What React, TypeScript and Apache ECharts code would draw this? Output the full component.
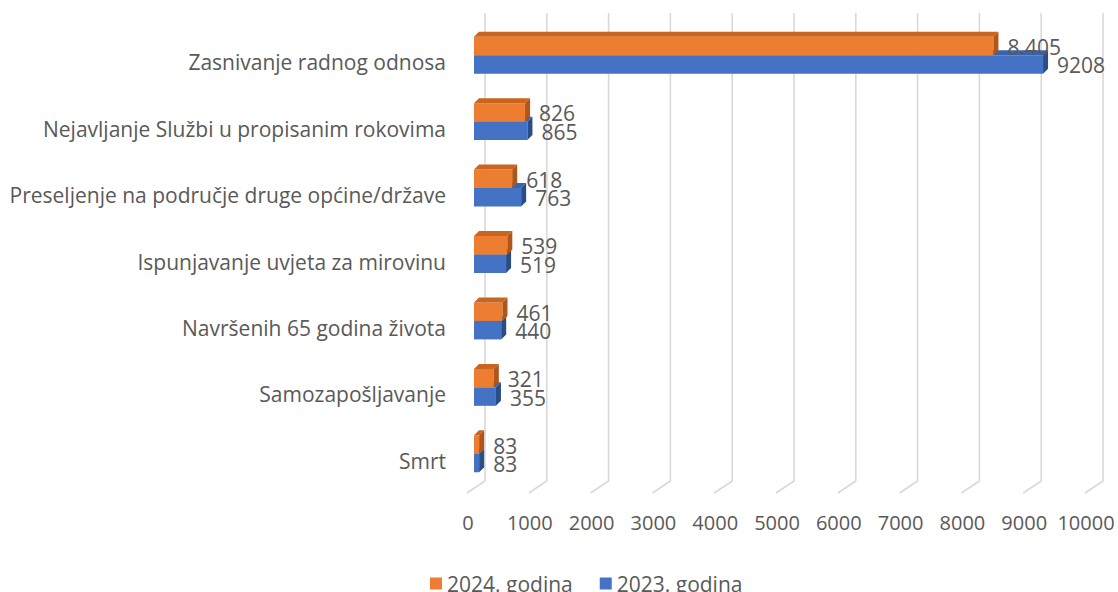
import React, { useEffect, useRef } from "react";
import * as echarts from "echarts";

const categories = [
  "Zasnivanje radnog odnosa",
  "Nejavljanje Službi u propisanim rokovima",
  "Preseljenje na područje druge općine/države",
  "Ispunjavanje uvjeta za mirovinu",
  "Navršenih 65 godina života",
  "Samozapošljavanje",
  "Smrt",
];
const values2024 = [8405, 826, 618, 539, 461, 321, 83];
const values2023 = [9208, 865, 763, 519, 440, 355, 83];
const xTicks = [0, 1000, 2000, 3000, 4000, 5000, 6000, 7000, 8000, 9000, 10000];
const seriesNames = ["2024. godina", "2023. godina"];

const FONT = "'Open Sans', 'Liberation Sans', sans-serif";
const TEXT = "#595959";

function fmtDot(v: number) {
  return v >= 1000 ? String(v).replace(/\B(?=(\d{3})+(?!\d))/g, ".") : String(v);
}

function makeBarRender(front: string, top: string, side: string, isTop: boolean, fmt: (v: number) => string) {
  return (params: any, api: any) => {
    const val = api.value(0);
    const idx = api.value(1);
    const p0 = api.coord([0, idx]);
    const p1 = api.coord([val, idx]);
    const band = api.size([0, 1])[1];
    const h = band * 0.278;
    const cy = p0[1];
    const y0 = isTop ? cy - h : cy;
    const x0 = p0[0];
    const x1 = p1[0];
    const d = 5;
    return {
      type: "group",
      children: [
        { type: "rect", shape: { x: x0, y: y0, width: x1 - x0, height: h }, style: { fill: front } },
        {
          type: "polygon",
          shape: { points: [[x0, y0], [x0 + d, y0 - d], [x1 + d, y0 - d], [x1, y0]] },
          style: { fill: top },
        },
        {
          type: "polygon",
          shape: { points: [[x1, y0], [x1 + d, y0 - d], [x1 + d, y0 + h - d], [x1, y0 + h]] },
          style: { fill: side },
        },
        {
          type: "text",
          x: x1 + d + 9,
          y: y0 + h / 2 + 1,
          style: {
            text: fmt(val),
            fill: TEXT,
            fontSize: 21,
            fontFamily: FONT,
            verticalAlign: "middle",
            align: "left",
          },
        },
      ],
    };
  };
}

function gridRender(params: any, api: any) {
  const v = api.value(0);
  const x = api.coord([v, 0])[0];
  return {
    type: "polyline",
    shape: { points: [[x + 11, 13], [x + 11, 481], [x - 7, 493]] },
    style: { stroke: "#D9D9D9", lineWidth: 1.6, fill: "none" },
  };
}

export default function App() {
  const ref = useRef<HTMLDivElement>(null);
  useEffect(() => {
    if (!ref.current) return;
    const chart = echarts.init(ref.current, undefined, { renderer: "svg" });
    chart.setOption({
      animation: false,
      backgroundColor: "#ffffff",
      grid: { left: 474, right: 26, top: 22, bottom: 105, containLabel: false },
      xAxis: {
        type: "value",
        min: 0,
        max: 10000,
        interval: 1000,
        splitLine: { show: false },
        axisLine: { show: false },
        axisTick: { show: false },
        axisLabel: {
          color: TEXT,
          fontSize: 20,
          fontFamily: FONT,
          margin: 25,
          padding: [0, 12, 0, 0],
          formatter: (v: number) => String(v),
        },
      },
      yAxis: {
        type: "category",
        inverse: true,
        data: categories,
        axisLine: { show: false },
        axisTick: { show: false },
        axisLabel: {
          color: TEXT,
          fontSize: 21,
          fontFamily: FONT,
          margin: 28,
          verticalAlign: "top",
          lineHeight: 14,
        },
      },
      legend: {
        top: 568,
        left: 425,
        itemWidth: 12,
        itemHeight: 12,
        itemGap: 27,
        icon: "rect",
        data: seriesNames,
        textStyle: { color: TEXT, fontSize: 21, fontFamily: FONT },
      },
      series: [
        {
          type: "custom",
          name: "grid",
          silent: true,
          z: 1,
          clip: false,
          encode: { x: 0, y: 1 },
          data: xTicks.map((v) => [v, 0]),
          renderItem: gridRender,
        },
        {
          type: "custom",
          name: seriesNames[1],
          z: 2,
          clip: false,
          itemStyle: { color: "#4472C4" },
          encode: { x: 0, y: 1 },
          data: values2023.map((v, i) => [v, i]),
          renderItem: makeBarRender("#4472C4", "#3A63AD", "#2C4C86", false, (v) => String(v)),
        },
        {
          type: "custom",
          name: seriesNames[0],
          z: 3,
          clip: false,
          itemStyle: { color: "#ED7D31" },
          encode: { x: 0, y: 1 },
          data: values2024.map((v, i) => [v, i]),
          renderItem: makeBarRender("#ED7D31", "#C9651F", "#B0561A", true, fmtDot),
        },
      ],
    });
    return () => chart.dispose();
  }, []);
  return (
    <div
      ref={ref}
      style={{ position: "fixed", left: 0, top: 0, width: 1118, height: 592 }}
    />
  );
}
